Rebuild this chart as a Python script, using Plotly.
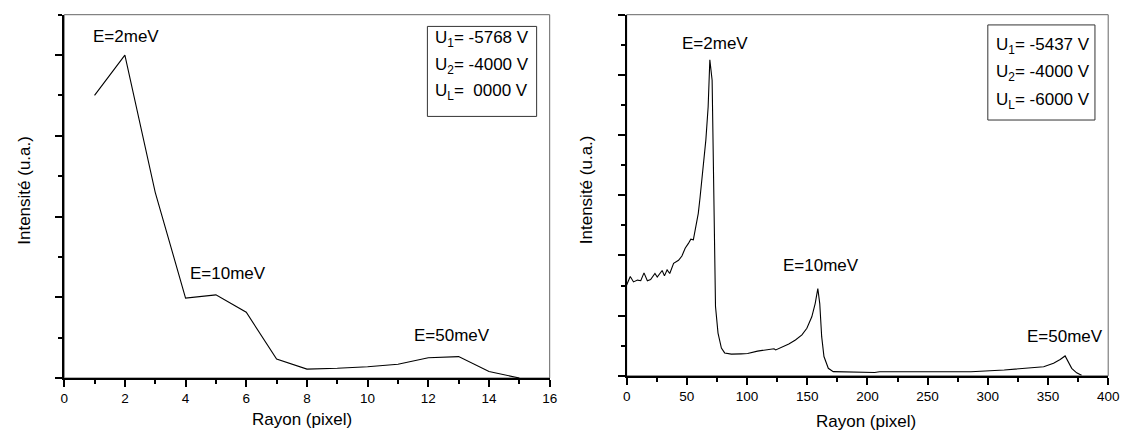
import plotly.graph_objects as go

# ---------------- data ----------------
left_x = [1, 2, 3, 4, 5, 6, 7, 8, 9, 10, 11, 12, 13, 14, 15]
left_y = [3.50, 4.00, 2.30, 0.99, 1.03, 0.815, 0.236, 0.11, 0.12, 0.14, 0.17, 0.25, 0.265, 0.08, 0.0]

right_x = [0, 3, 5.7, 9, 11.7, 14.4, 17.2, 19.9, 23.5, 25.4, 29.5, 31.4, 33.6, 35.8, 39,
           43.1, 45.9, 48.6, 51.3, 53.3, 55.4, 57.6, 59.5, 60.9, 63.6, 65.8, 67.7, 69.1,
           71, 71.8, 72.7, 73.8, 75.9, 78.7, 81.4, 87, 95, 100.5, 108.7, 114.2, 122.4,
           123.8, 129.2, 134.7, 140.2, 145.6, 149.7, 153.8, 156.6, 158.8, 160.4, 162,
           163.9, 167.5, 171.6, 190, 206, 210, 250, 286, 313.6, 335.5, 346.4, 354.6,
           360.1, 364.2, 366.9, 369.7, 373.8, 377.9]
right_y = [1.51, 1.65, 1.56, 1.59, 1.58, 1.71, 1.58, 1.60, 1.70, 1.64, 1.75, 1.66, 1.76, 1.70, 1.87,
           1.92, 1.99, 2.12, 2.20, 2.27, 2.26, 2.48, 2.70, 2.95, 3.47, 3.92, 4.47, 5.25,
           4.91, 3.92, 2.26, 1.15, 0.71, 0.46, 0.38, 0.36, 0.365, 0.37, 0.41, 0.43, 0.45,
           0.43, 0.48, 0.53, 0.595, 0.68, 0.79, 0.98, 1.20, 1.45, 1.20, 0.65,
           0.32, 0.125, 0.07, 0.066, 0.055, 0.068, 0.07, 0.068, 0.096, 0.124, 0.15, 0.21,
           0.27, 0.33, 0.23, 0.124, 0.05, 0.01]

left_labels = ["E=2meV", "E=10meV", "E=50meV"]
left_label_x = [2.03, 5.41, 12.77]
left_label_y = [4.23, 1.30, 0.53]
right_labels = ["E=2meV", "E=10meV", "E=50meV"]
right_label_x = [73.2, 161.3, 364.5]
right_label_y = [5.52, 1.84, 0.65]

left_box_lines = ["U<sub>1</sub>= -5768 V", "U<sub>2</sub>= -4000 V", "U<sub>L</sub>=\u00a0\u00a00000 V"]
right_box_lines = ["U<sub>1</sub>= -5437 V", "U<sub>2</sub>= -4000 V", "U<sub>L</sub>= -6000 V"]

x_title = "Rayon (pixel)"
y_title = "Intensité (u.a.)"

# ---------------- figure ----------------
W, H = 1134, 430
FONT = "Liberation Sans, Arial, sans-serif"

fig = go.Figure()
fig.add_trace(go.Scatter(x=left_x, y=left_y, mode="lines",
                         line=dict(color="black", width=1.1), xaxis="x", yaxis="y",
                         showlegend=False, hoverinfo="skip"))
fig.add_trace(go.Scatter(x=right_x, y=right_y, mode="lines",
                         line=dict(color="black", width=1.1), xaxis="x2", yaxis="y2",
                         showlegend=False, hoverinfo="skip"))


def xax(dom, rng, dtick, mdtick):
    return dict(domain=dom, range=rng, dtick=dtick, tick0=0, showgrid=False, zeroline=False,
                showline=True, linecolor="black", linewidth=1.6, ticks="outside",
                ticklen=7, tickwidth=1.5, tickcolor="black",
                tickfont=dict(family=FONT, size=13.5, color="black"),
                minor=dict(dtick=mdtick, tick0=0, ticks="outside", ticklen=4,
                           tickwidth=1.5, tickcolor="black", showgrid=False),
                fixedrange=True)


def yax(dom, rng, anchor):
    return dict(domain=dom, range=rng, dtick=1, tick0=0, showgrid=False, zeroline=False,
                showline=True, linecolor="black", linewidth=1.6, ticks="outside",
                ticklen=7, tickwidth=1.5, tickcolor="black", showticklabels=False,
                minor=dict(dtick=0.5, tick0=0, ticks="outside", ticklen=4,
                           tickwidth=1.5, tickcolor="black", showgrid=False),
                anchor=anchor, fixedrange=True)


lx = [61 / W, 553 / W]
rx = [631 / W, 1119 / W]
ly = [1 - 378 / H, 1 - 14.7 / H]
ry = [1 - 375.8 / H, 1 - 14.7 / H]

xa1 = xax(lx, [0, 16], 2, 1)
xa1["anchor"] = "y"
xa2 = xax(rx, [0, 400], 50, 25)
xa2["anchor"] = "y2"

fig.update_layout(
    width=W, height=H,
    margin=dict(l=0, r=0, t=0, b=0),
    paper_bgcolor="white", plot_bgcolor="white",
    font=dict(family=FONT, color="black"),
    xaxis=xa1, yaxis=yax(ly, [0, 4.5], "x"),
    xaxis2=xa2, yaxis2=yax(ry, [0, 6], "x2"),
)

shapes = []
# thin frame (top / right)
for xr, yr in (("x domain", "y domain"), ("x2 domain", "y2 domain")):
    shapes.append(dict(type="rect", xref=xr, yref=yr, x0=0, x1=1, y0=0, y1=1,
                       line=dict(color="#666666", width=1), layer="below"))
# legend-like boxes
shapes.append(dict(type="rect", xref="x", yref="y", x0=11.97, x1=15.57, y0=3.24, y1=4.355,
                   line=dict(color="#333333", width=1)))
shapes.append(dict(type="rect", xref="x2", yref="y2", x0=300, x1=389, y0=4.25, y1=5.83,
                   line=dict(color="#333333", width=1)))
fig.update_layout(shapes=shapes)

TF = dict(family=FONT, size=17, color="black")
ann = []
for t, x, y in zip(left_labels, left_label_x, left_label_y):
    ann.append(dict(text=t, x=x, y=y, xref="x", yref="y", showarrow=False,
                    xanchor="center", yanchor="middle", font=TF))
for t, x, y in zip(right_labels, right_label_x, right_label_y):
    ann.append(dict(text=t, x=x, y=y, xref="x2", yref="y2", showarrow=False,
                    xanchor="center", yanchor="middle", font=TF))
for t, y in zip(left_box_lines, [4.20, 3.86, 3.54]):
    ann.append(dict(text=t, x=12.16, y=y, xref="x", yref="y", showarrow=False,
                    xanchor="left", yanchor="middle", font=TF))
for t, y in zip(right_box_lines, [5.48, 5.03, 4.57]):
    ann.append(dict(text=t, x=305, y=y, xref="x2", yref="y2", showarrow=False,
                    xanchor="left", yanchor="middle", font=TF))
# axis titles
ann.append(dict(text=x_title, x=302 / W, y=1 - 419 / H, xref="paper", yref="paper",
                showarrow=False, xanchor="center", yanchor="middle", font=TF))
ann.append(dict(text=x_title, x=874 / W, y=1 - 421 / H, xref="paper", yref="paper",
                showarrow=False, xanchor="center", yanchor="middle", font=TF))
ann.append(dict(text=y_title, x=20 / W, y=1 - 190 / H, xref="paper", yref="paper",
                showarrow=False, xanchor="center", yanchor="middle", textangle=-90, font=TF))
ann.append(dict(text=y_title, x=590 / W, y=1 - 190 / H, xref="paper", yref="paper",
                showarrow=False, xanchor="center", yanchor="middle", textangle=-90, font=TF))
fig.update_layout(annotations=ann)

fig.write_html("out.html", config={"displayModeBar": False},
               post_script="document.body.style.margin='0';document.body.style.overflow='hidden';")
